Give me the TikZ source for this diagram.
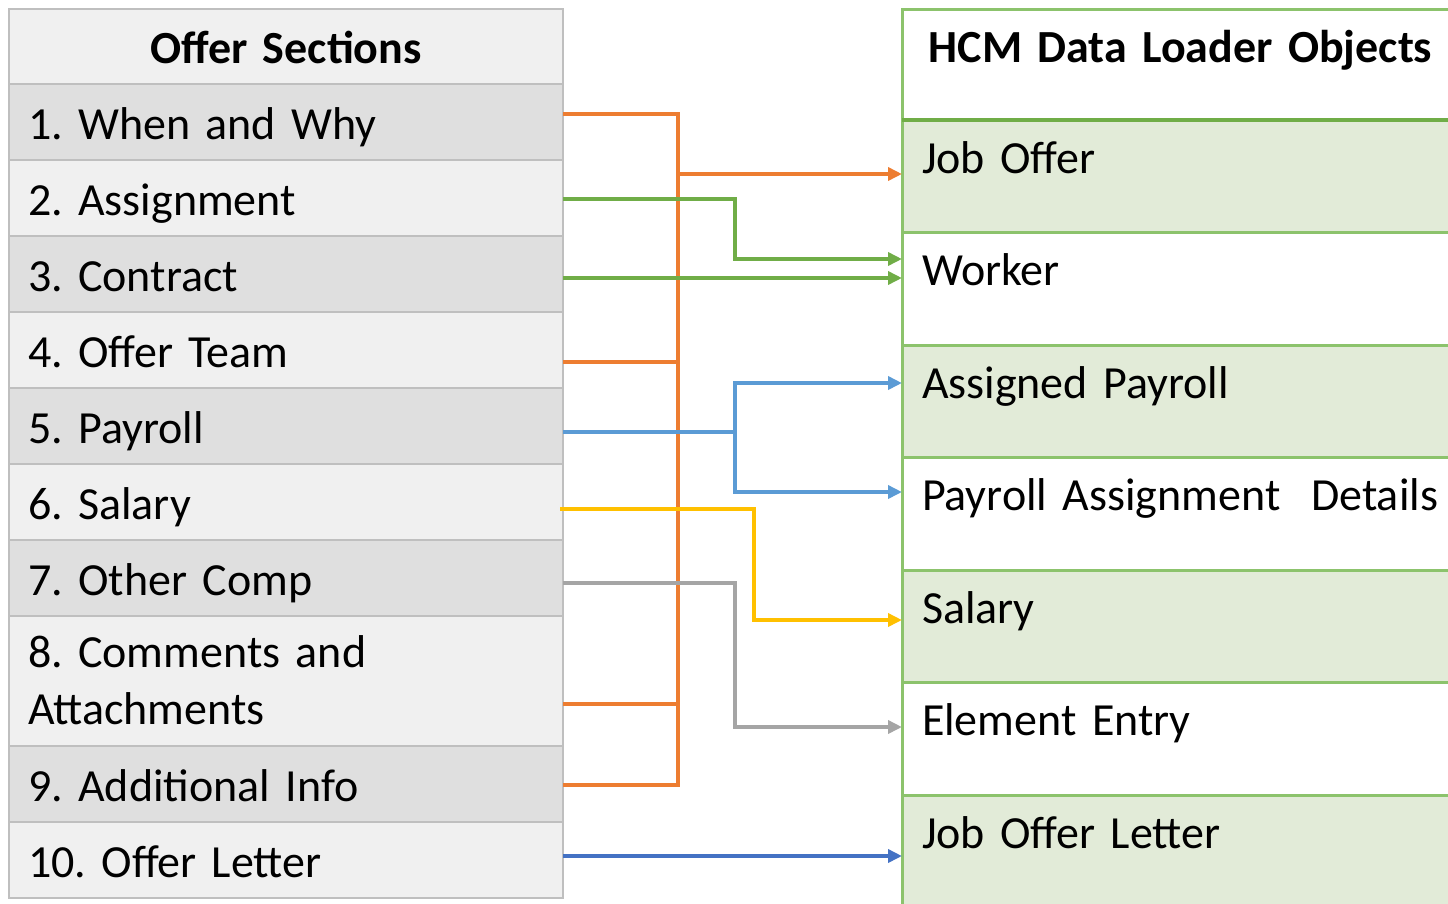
\documentclass[tikz,border=0pt]{standalone}
\usepackage{fontspec}
\setmainfont{Carlito}
\usepackage{tikz}
\usetikzlibrary{arrows.meta,positioning}
\definecolor{SecFill}{HTML}{F0F0F0}
\definecolor{SecShade}{HTML}{DFDFDF}
\definecolor{SecLine}{HTML}{BFBFBF}
\definecolor{ObjFill}{HTML}{E2EBD8}
\definecolor{ObjLine}{HTML}{8CC36C}
\definecolor{WireOrange}{HTML}{ED7D31}
\definecolor{WireGreen}{HTML}{70AD47}
\definecolor{WireBlue}{HTML}{5B9BD5}
\definecolor{WireGold}{HTML}{FFC000}
\definecolor{WireGray}{HTML}{A5A5A5}
\definecolor{WireNavy}{HTML}{4472C4}

\begin{document}
\begin{tikzpicture}[
x=1pt,y=-1pt,
node distance=0pt,
sec/.style={draw=SecLine,line width=2.5pt,fill=SecFill,outer sep=0pt,minimum height=76pt,inner xsep=19pt,inner ysep=0pt,text width=516pt,text height=38pt,text depth=4pt,align=left,font=\fontsize{46}{57}\selectfont\frenchspacing},
shade/.style={fill=SecShade},
obj/.style={draw=ObjLine,line width=3pt,fill=white,outer sep=0pt,inner xsep=20pt,inner ysep=0pt,text width=517pt,text height=53pt,text depth=59.5pt,align=left,font=\fontsize{46}{57}\selectfont\frenchspacing},
tint/.style={fill=ObjFill},
wire/.style={line width=3.5pt},
arr/.style={wire,-{Triangle[length=14pt,width=13pt]}}
]
\useasboundingbox (0,0) rectangle (1448,903);
% offer sections
\node[sec,align=center,minimum height=75pt,font=\fontsize{46}{57}\selectfont\bfseries,anchor=north west] (s0) at (9,9) {Offer Sections};
\node[sec,shade,below=of s0] (s1) {1. When and Why};
\node[sec,below=of s1] (s2) {2. Assignment};
\node[sec,shade,below=of s2] (s3) {3. Contract};
\node[sec,below=of s3] (s4) {4. Offer Team};
\node[sec,shade,below=of s4] (s5) {5. Payroll};
\node[sec,below=of s5] (s6) {6. Salary};
\node[sec,shade,below=of s6] (s7) {7. Other Comp};
\node[sec,below=of s7,minimum height=130pt,text depth=66pt] (s8) {8. Comments and\\Attachments};
\node[sec,shade,below=of s8] (s9) {9. Additional Info};
\node[sec,below=of s9] (s10) {10. Offer Letter};
% data loader objects
\node[obj,align=center,text depth=58pt,font=\fontsize{46}{57}\selectfont\bfseries,anchor=north west] (o0) at (902,9) {HCM Data Loader Objects};
\node[obj,tint,below=of o0] (o1) {Job Offer};
\node[obj,below=of o1] (o2) {Worker};
\node[obj,tint,below=of o2] (o3) {Assigned Payroll};
\node[obj,below=of o3] (o4) {Payroll Assignment\ \ Details};
\node[obj,tint,below=of o4] (o5) {Salary};
\node[obj,below=of o5] (o6) {Element Entry};
\node[obj,tint,below=of o6] (o7) {Job Offer Letter};
\draw[WireGreen,line width=3.5pt] (o0.south west) -- (o0.south east);
% bus lines
\coordinate (busA) at (678,0);
\coordinate (busB) at (735,0);
\coordinate (busC) at (754,0);
\draw[wire,WireOrange] (s1.east |- 0,114) -| (busA |- 0,785) -- (s9.east |- 0,785);
\draw[wire,WireOrange] (s4.east |- 0,362) -- (busA |- 0,362);
\draw[wire,WireOrange] (s8.east |- 0,704) -- (busA |- 0,704);
\draw[arr,WireOrange] (busA |- 0,174) -- (o1.west |- 0,174);
\draw[arr,WireGreen] (s2.east |- 0,199) -| (busB |- 0,259) -- (o2.west |- 0,259);
\draw[arr,WireGreen] (s3.east |- 0,278) -- (o2.west |- 0,278);
\draw[arr,WireBlue] (s5.east |- 0,432) -| (busB |- 0,383) -- (o3.west |- 0,383);
\draw[arr,WireBlue] (busB |- 0,432) |- (o4.west |- 0,492);
\draw[arr,WireGold] ([xshift=-3pt]s6.east |- 0,509) -| (busC |- 0,620) -- (o5.west |- 0,620);
\draw[arr,WireGray] (s7.east |- 0,583) -| (busB |- 0,727) -- (o6.west |- 0,727);
\draw[arr,WireNavy] (s10.east |- 0,856) -- (o7.west |- 0,856);
\end{tikzpicture}
\end{document}
